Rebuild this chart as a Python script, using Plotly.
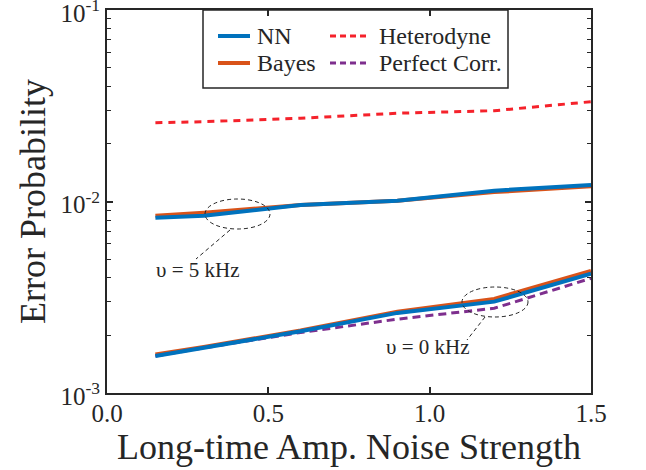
import plotly.graph_objects as go

# ---- data ----
noise = [0.15, 0.3, 0.6, 0.9, 1.2, 1.5]
nn_5k = [0.00823, 0.00843, 0.00959, 0.0101, 0.01139, 0.0122]
bayes_5k = [0.00843, 0.00874, 0.00959, 0.0101, 0.0112, 0.0120]
nn_0k = [0.00156, 0.00172, 0.00210, 0.00262, 0.00300, 0.00420]
bayes_0k = [0.00159, 0.00174, 0.00212, 0.00266, 0.00310, 0.00434]
perfect_0k = [0.00156, 0.00172, 0.00207, 0.00243, 0.00277, 0.00397]
heterodyne = [0.0258, 0.0261, 0.0272, 0.0289, 0.0298, 0.0332]

x_ticks = [0.0, 0.5, 1.0, 1.5]
x_ticktext = ["0.0", "0.5", "1.0", "1.5"]
y_ticks = [1e-3, 1e-2, 1e-1]
y_ticktext = ["10<sup>-3</sup>", "10<sup>-2</sup>", "10<sup>-1</sup>"]

legend_names = ["NN", "Bayes", "Heterodyne", "Perfect Corr."]

BLUE = "#0072BD"
ORANGE = "#D95319"
RED = "#F5222B"
PURPLE = "#7E2F8E"
AX = "#262626"
FONT = "Liberation Serif, Times New Roman, serif"

styles = {
    "NN": dict(color=BLUE, width=4),
    "Bayes": dict(color=ORANGE, width=4),
    "Heterodyne": dict(color=RED, width=3, dash="7px,6px"),
    "Perfect Corr.": dict(color=PURPLE, width=3, dash="8px,5px"),
}

fig = go.Figure()
fig.add_trace(go.Scatter(x=noise, y=bayes_5k, mode="lines", name="Bayes",
                         line=styles["Bayes"], showlegend=False))
fig.add_trace(go.Scatter(x=noise, y=bayes_0k, mode="lines", name="Bayes",
                         line=styles["Bayes"], showlegend=False))
fig.add_trace(go.Scatter(x=noise, y=heterodyne, mode="lines", name="Heterodyne",
                         line=styles["Heterodyne"], showlegend=False))
fig.add_trace(go.Scatter(x=noise, y=perfect_0k, mode="lines", name="Perfect Corr.",
                         line=styles["Perfect Corr."], showlegend=False))
fig.add_trace(go.Scatter(x=noise, y=nn_5k, mode="lines", name="NN",
                         line=styles["NN"], showlegend=False))
fig.add_trace(go.Scatter(x=noise, y=nn_0k, mode="lines", name="NN",
                         line=styles["NN"], showlegend=False))

# plot area in pixels (page body margin is removed below)
L, R, T, B = 107, 591, 10, 393
W, H = R - L, B - T
def px(xp):
    return (xp - L) / W
def py(yp):
    return (B - yp) / H

minor_vals = [m * 10.0 ** e for e in (-3, -2) for m in range(2, 10)]

fig.update_layout(
    width=646, height=470,
    margin=dict(l=L, r=646 - R, t=T, b=470 - B, autoexpand=False),
    paper_bgcolor="white", plot_bgcolor="white",
    font=dict(family=FONT, color=AX, size=24),
    showlegend=False,
    xaxis=dict(range=[0, 1.5], tickvals=x_ticks, ticktext=x_ticktext,
               ticks="inside", ticklen=6, tickwidth=1.5, tickcolor=AX,
               showline=True, linecolor=AX, linewidth=2, mirror="ticks",
               showgrid=False, zeroline=False, automargin=False,
               ticklabeloverflow="allow", ticklabelstandoff=-3,
               tickfont=dict(size=25, family=FONT, color=AX),
               title=dict(text="Long-time Amp. Noise Strength",
                          font=dict(size=36, family=FONT, color=AX), standoff=0)),
    yaxis=dict(type="log", range=[-3, -1], tickvals=y_ticks, ticktext=y_ticktext,
               ticks="inside", ticklen=6, tickwidth=1.5, tickcolor=AX,
               showline=True, linecolor=AX, linewidth=2, mirror="ticks",
               showgrid=False, zeroline=False, automargin=False,
               ticklabeloverflow="allow", ticklabelshift=3,
               minor=dict(tickvals=minor_vals, ticks="inside", ticklen=4,
                          tickwidth=1.2, tickcolor=AX, showgrid=False),
               tickfont=dict(size=25, family=FONT, color=AX),
               title=dict(text="Error Probability",
                          font=dict(size=36, family=FONT, color=AX), standoff=4)),
)

dash_ann = dict(color=AX, width=1, dash="4px,3px")
shapes = [
    # legend frame
    dict(type="rect", xref="paper", yref="paper", x0=px(203), x1=px(508),
         y0=py(88), y1=py(10), line=dict(color=AX, width=1.5), layer="above"),
    # ellipse around 5 kHz curves
    dict(type="circle", xref="paper", yref="paper", x0=px(205), x1=px(270),
         y0=py(229), y1=py(199), line=dash_ann),
    dict(type="line", xref="paper", yref="paper", x0=px(230), y0=py(230),
         x1=px(196), y1=py(259), line=dash_ann),
    # ellipse around 0 kHz curves
    dict(type="circle", xref="paper", yref="paper", x0=px(462), x1=px(528),
         y0=py(317), y1=py(287), line=dash_ann),
    dict(type="line", xref="paper", yref="paper", x0=px(485), y0=py(317),
         x1=px(467), y1=py(340), line=dash_ann),
]

# manual legend (two columns)
legend_pos = {
    "NN": (218, 250, 255, 36),
    "Bayes": (218, 250, 255, 63),
    "Heterodyne": (330, 369, 377, 36),
    "Perfect Corr.": (330, 369, 377, 63),
}
leg_dash = {"Heterodyne": "6px,4px", "Perfect Corr.": "6px,4px"}
for name in legend_names:
    x0, x1, xt, yc = legend_pos[name]
    st = dict(styles[name])
    if name in leg_dash:
        st["dash"] = leg_dash[name]
    shapes.append(dict(type="line", xref="paper", yref="paper",
                       x0=px(x0), x1=px(x1), y0=py(yc), y1=py(yc), line=st))
    fig.add_annotation(text=name, xref="paper", yref="paper", x=px(xt), y=py(yc),
                       xanchor="left", yanchor="middle", showarrow=False,
                       font=dict(size=24, family=FONT, color=AX))

fig.update_layout(shapes=shapes)

fig.add_annotation(text="υ = 5 kHz", xref="paper", yref="paper",
                   x=px(197), y=py(270), xanchor="center", yanchor="middle",
                   showarrow=False, font=dict(size=21, family=FONT, color=AX))
fig.add_annotation(text="υ = 0 kHz", xref="paper", yref="paper",
                   x=px(427), y=py(347), xanchor="center", yanchor="middle",
                   showarrow=False, font=dict(size=21, family=FONT, color=AX))

fig.write_html("out.html", config={"displayModeBar": False},
               post_script="document.body.style.margin='0';document.body.style.padding='0';")
